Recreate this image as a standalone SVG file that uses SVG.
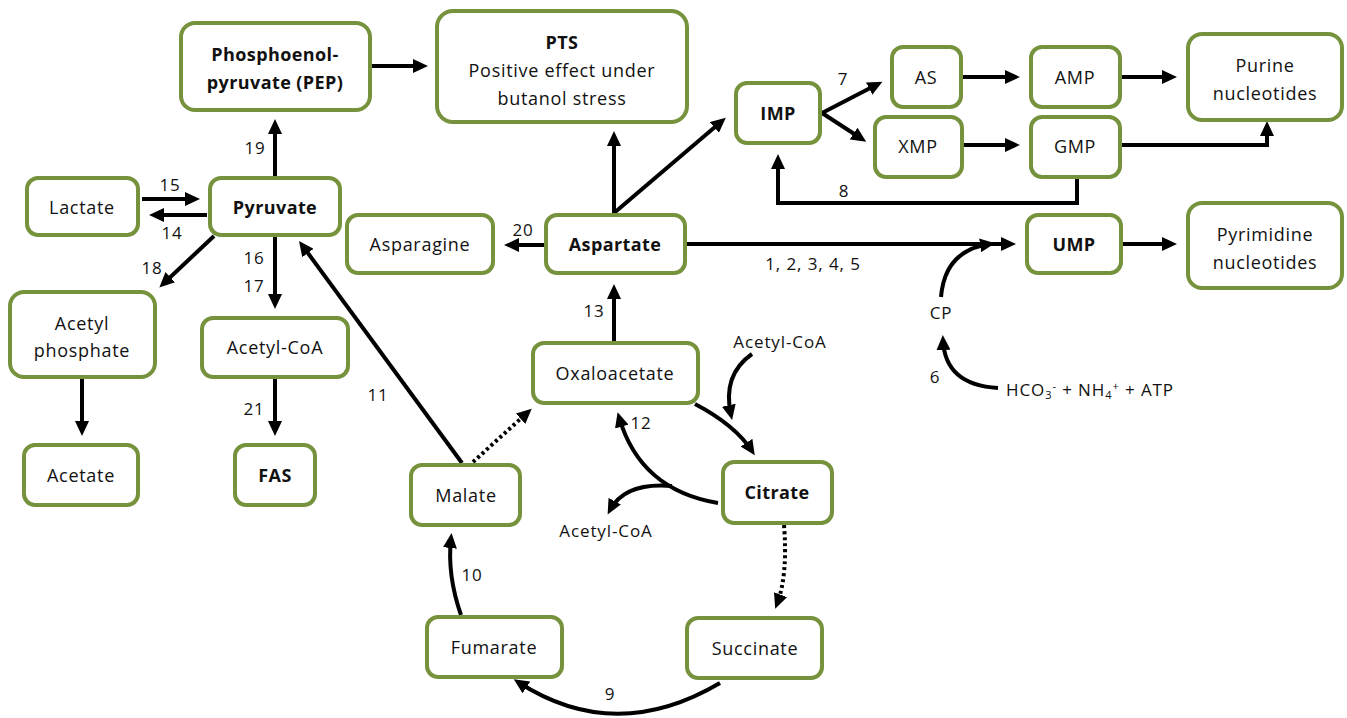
<svg xmlns="http://www.w3.org/2000/svg" width="1347" height="718" viewBox="0 0 1347 718">
<defs>
<style>
.box{fill:#fff;stroke:#76923c;stroke-width:4}
.t{font-family:"Open Sans","Liberation Sans",sans-serif;font-size:18px;letter-spacing:0.7px;fill:#111;text-anchor:middle}
.b{font-weight:bold;letter-spacing:0.4px}
.l{font-family:"Open Sans","Liberation Sans",sans-serif;font-size:17px;letter-spacing:0.9px;fill:#111;text-anchor:middle}
.c{fill:none;stroke:#000;stroke-width:4;marker-end:url(#ah)}
.d{fill:none;stroke:#000;stroke-width:4;stroke-dasharray:3 3;marker-end:url(#ah)}
</style>
<marker id="ah" markerUnits="userSpaceOnUse" markerWidth="16" markerHeight="14" refX="10" refY="7" orient="auto">
<path d="M0,0 L15,7 L0,14 z" fill="#000"/>
</marker>
</defs>
<rect width="1347" height="718" fill="#fff"/>
<g id="connectors">
<path class="c" d="M372,66 L423,66"/>
<path class="c" d="M275,177 L275,124"/>
<path class="c" d="M142,199 L195,199"/>
<path class="c" d="M207,215 L154,215"/>
<path class="c" d="M214,236 L163,284"/>
<path class="c" d="M275,235 L275,304"/>
<path class="c" d="M462,463 L302,245"/>
<path class="c" d="M82,377 L82,431"/>
<path class="c" d="M275,377 L275,431"/>
<path class="c" d="M614,213 L614,136"/>
<path class="c" d="M614,213 L722,121"/>
<path class="c" d="M822,113 L878,84"/>
<path class="c" d="M822,113 L862,139"/>
<path class="c" d="M963,77 L1015,77"/>
<path class="c" d="M1122,77 L1172,77"/>
<path class="c" d="M963,145 L1015,145"/>
<path class="c" d="M1122,145 L1267,145 L1267,126"/>
<path class="c" d="M1077,177 L1077,203 L778,203 L778,159"/>
<path class="c" d="M545,245 L509,245"/>
<path class="c" d="M687,244 L1011,244"/>
<path class="c" d="M1122,244 L1172,244"/>
<path class="c" d="M614,343 L614,289"/>
<path class="d" d="M473,462 L528,412"/>
<path class="c" d="M695,404 Q735,425 752,451"/>
<path class="c" d="M752,354 Q722,375 731,415"/>
<path class="c" d="M718,503 Q640,490 619,417"/>
<path class="c" d="M672,486 Q625,482 610,510"/>
<path class="d" d="M784,525 Q788,575 777,604"/>
<path class="c" d="M720,683 Q615,745 518,682"/>
<path class="c" d="M461,615 Q447,575 451,538"/>
<path class="c" d="M941,297 Q945,250 990,244"/>
<path class="c" d="M998,388 Q945,385 943,340"/>
</g>
<g id="labels">
<text class="l" x="255" y="154">19</text>
<text class="l" x="170" y="191">15</text>
<text class="l" x="172" y="239">14</text>
<text class="l" x="152" y="274">18</text>
<text class="l" x="254" y="264">16</text>
<text class="l" x="254" y="292">17</text>
<text class="l" x="378" y="401">11</text>
<text class="l" x="254" y="415">21</text>
<text class="l" x="843" y="85">7</text>
<text class="l" x="844" y="197">8</text>
<text class="l" x="523" y="236">20</text>
<text class="l" x="813" y="270">1, 2, 3, 4, 5</text>
<text class="l" x="594" y="317">13</text>
<text class="l" x="641" y="429">12</text>
<text class="l" x="610" y="700">9</text>
<text class="l" x="472" y="581">10</text>
<text class="l" x="935" y="383">6</text>
<text class="l" x="941" y="319">CP</text>
<text class="l" x="780" y="348">Acetyl-CoA</text>
<text class="l" x="606" y="537">Acetyl-CoA</text>
<text class="l" x="1006" y="396" style="text-anchor:start">HCO<tspan font-size="11" dy="3">3</tspan><tspan font-size="11" dy="-9">-</tspan><tspan dy="6"> + NH</tspan><tspan font-size="11" dy="3">4</tspan><tspan font-size="11" dy="-9">+</tspan><tspan dy="6"> + ATP</tspan></text>
</g>
<g id="pep"><rect class="box" x="181" y="23" width="189" height="87" rx="14"/><text class="t b" x="275" y="61">Phosphoenol-</text><text class="t b" x="275" y="89">pyruvate (PEP)</text></g>
<g id="pts"><rect class="box" x="437" y="11" width="250" height="111" rx="16"/><text class="t b" x="562" y="49">PTS</text><text class="t" x="562" y="77">Positive effect under</text><text class="t" x="562" y="105">butanol stress</text></g>
<g id="imp"><rect class="box" x="736" y="83" width="84" height="60" rx="11"/><text class="t b" x="778" y="120">IMP</text></g>
<g id="as"><rect class="box" x="892" y="47" width="69" height="60" rx="11"/><text class="t" x="926" y="84">AS</text></g>
<g id="amp"><rect class="box" x="1031" y="47" width="89" height="60" rx="11"/><text class="t" x="1075" y="84">AMP</text></g>
<g id="purine"><rect class="box" x="1188" y="34" width="154" height="86" rx="14"/><text class="t" x="1265" y="72">Purine</text><text class="t" x="1265" y="100">nucleotides</text></g>
<g id="xmp"><rect class="box" x="875" y="117" width="87" height="60" rx="11"/><text class="t" x="918" y="153">XMP</text></g>
<g id="gmp"><rect class="box" x="1031" y="117" width="89" height="60" rx="11"/><text class="t" x="1075" y="153">GMP</text></g>
<g id="ump"><rect class="box" x="1027" y="215" width="94" height="58" rx="11"/><text class="t b" x="1074" y="251">UMP</text></g>
<g id="pyrimidine"><rect class="box" x="1188" y="203" width="154" height="85" rx="14"/><text class="t" x="1265" y="241">Pyrimidine</text><text class="t" x="1265" y="269">nucleotides</text></g>
<g id="lactate"><rect class="box" x="27" y="178" width="111" height="57" rx="11"/><text class="t" x="82" y="214">Lactate</text></g>
<g id="pyruvate"><rect class="box" x="210" y="178" width="130" height="57" rx="11"/><text class="t b" x="275" y="214">Pyruvate</text></g>
<g id="asparagine"><rect class="box" x="347" y="215" width="146" height="58" rx="11"/><text class="t" x="420" y="251">Asparagine</text></g>
<g id="aspartate"><rect class="box" x="546" y="215" width="139" height="58" rx="11"/><text class="t b" x="615" y="251">Aspartate</text></g>
<g id="acetylphosphate"><rect class="box" x="10" y="292" width="145" height="85" rx="14"/><text class="t" x="82" y="330">Acetyl</text><text class="t" x="82" y="357">phosphate</text></g>
<g id="acetylcoa"><rect class="box" x="202" y="318" width="146" height="59" rx="11"/><text class="t" x="275" y="354">Acetyl-CoA</text></g>
<g id="acetate"><rect class="box" x="24" y="445" width="114" height="60" rx="11"/><text class="t" x="81" y="482">Acetate</text></g>
<g id="fas"><rect class="box" x="235" y="445" width="80" height="60" rx="11"/><text class="t b" x="275" y="482">FAS</text></g>
<g id="oxaloacetate"><rect class="box" x="533" y="343" width="165" height="60" rx="11"/><text class="t" x="615" y="380">Oxaloacetate</text></g>
<g id="citrate"><rect class="box" x="723" y="462" width="109" height="61" rx="11"/><text class="t b" x="777" y="499">Citrate</text></g>
<g id="malate"><rect class="box" x="411" y="465" width="109" height="60" rx="11"/><text class="t" x="466" y="502">Malate</text></g>
<g id="fumarate"><rect class="box" x="427" y="617" width="135" height="60" rx="11"/><text class="t" x="494" y="654">Fumarate</text></g>
<g id="succinate"><rect class="box" x="687" y="618" width="135" height="60" rx="11"/><text class="t" x="755" y="655">Succinate</text></g>
</svg>
